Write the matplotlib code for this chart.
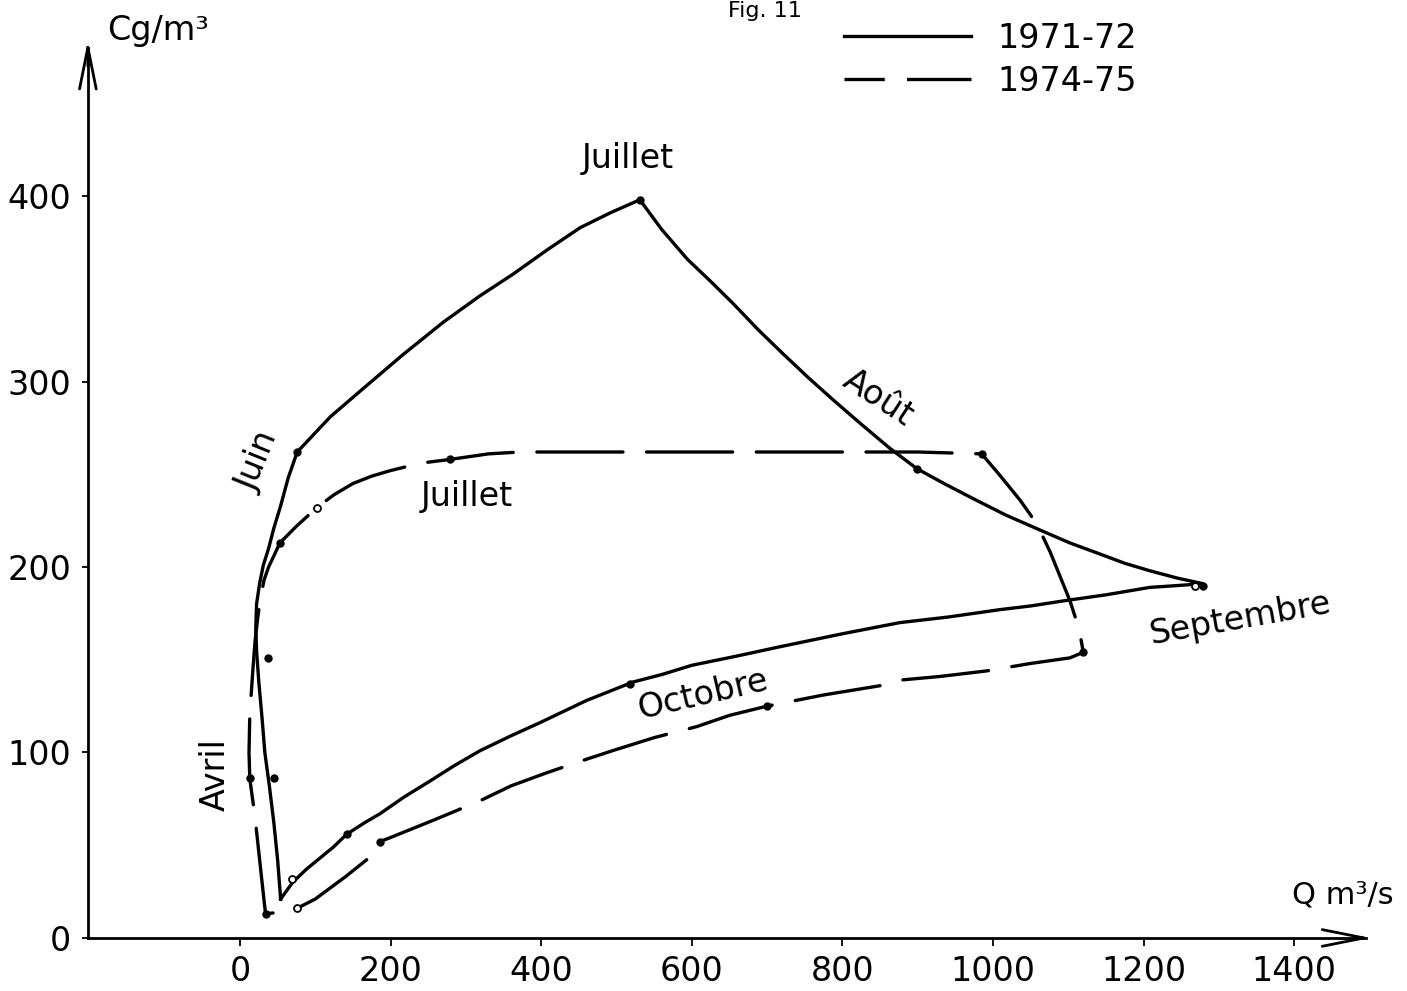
import numpy as np
import matplotlib
matplotlib.use("Agg")
import matplotlib.pyplot as plt
from matplotlib.lines import Line2D

plt.rcParams['font.family'] = ['DejaVu Sans']
plt.rcParams['lines.scale_dashes'] = False

# 1971-72 loop (solid), Q m3/s vs C g/m3
q_7172 = [54, 50, 45, 39, 33, 29, 25, 22, 21, 22, 26, 31, 38, 45, 54, 64, 76,
          120, 163, 215, 270, 318, 363, 408, 452, 492, 531,
          560, 594, 625, 655, 688, 721, 755, 788, 825, 863, 899, 935, 973,
          1017, 1062, 1102, 1142, 1175, 1208, 1245, 1279,
          1245, 1208, 1150, 1098, 1050, 1009, 940, 876, 800, 717, 660, 600,
          560, 522, 460, 398, 360, 319, 285, 250, 218, 186, 165, 142, 124, 106, 88, 70, 54]
c_7172 = [21, 42, 62, 82, 100, 120, 138, 155, 167, 180, 191, 201, 210, 221, 233, 248, 262,
          281, 296, 314, 332, 346, 358, 371, 383, 391, 398,
          382, 366, 354, 342, 328, 315, 302, 290, 277, 264, 253, 245, 237,
          228, 220, 213, 207, 202, 198, 194, 191,
          190, 189, 185, 182, 179, 177, 173, 170, 164, 157, 152, 147,
          142, 138, 128, 116, 109, 101, 93, 84, 76, 67, 62, 56, 49, 43, 37, 30, 21]

# 1974-75 loop (dashed)
q_7475 = [34, 32, 28, 24, 20, 15, 13, 12, 13, 17, 20, 24, 28, 32, 38, 45, 53,
          75, 102, 125, 150, 175, 200, 240, 279, 330, 372, 500, 700, 900, 985,
          1010, 1036, 1050, 1062, 1076, 1089, 1102, 1110, 1115, 1120,
          1102, 1050, 992, 930, 876, 850, 775, 700, 650, 607, 550, 495, 450, 407,
          360, 319, 260, 199, 186, 177, 140, 100, 76, 55, 34]
c_7475 = [13, 20, 35, 50, 65, 80, 86, 100, 120, 144, 160, 174, 185, 193, 200, 206, 213,
          222, 232, 239, 245, 249, 252, 256, 258, 261, 262, 262, 262, 262, 261,
          249, 236, 228, 220, 208, 195, 182, 172, 165, 154,
          151, 148, 144, 141, 139, 136, 131, 125, 120, 114, 108, 101, 95, 89,
          82, 74, 64, 54, 52, 45, 33, 21, 16, 14, 13]

# measured points
dots_7172_q = [76, 531, 899, 1279, 518, 142, 37, 45]
dots_7172_c = [262, 398, 253, 190, 137, 56, 151, 86]
open_7172_q = [69, 1268]
open_7172_c = [32, 190]
dots_7475_q = [34, 186, 700, 1120, 985, 279, 53, 13]
dots_7475_c = [13, 52, 125, 154, 261, 258, 213, 86]
open_7475_q = [76, 102]
open_7475_c = [16, 232]

xticks = [0, 200, 400, 600, 800, 1000, 1200, 1400]
yticks = [0, 100, 200, 300, 400]

fig = plt.figure(figsize=(14.07, 9.91), dpi=100)
ax = fig.add_axes([0, 0, 1, 1])
ax.set_xlim(-318.7, 1549.8)
ax.set_ylim(-28.6, 505.7)

# axes drawn like the hand-made original
ax.spines['right'].set_visible(False)
ax.spines['top'].set_visible(False)
ax.spines['left'].set_position(('data', -202))
ax.spines['bottom'].set_position(('data', 0))
ax.spines['left'].set_bounds(0, 480)
ax.spines['bottom'].set_bounds(-202, 1495)
for s in ('left', 'bottom'):
    ax.spines[s].set_linewidth(2)
ax.set_xticks(xticks)
ax.set_yticks(yticks)
ax.tick_params(axis='x', direction='out', length=6, width=1.3, pad=6, labelsize=24)
ax.tick_params(axis='y', direction='out', length=4, width=1.3, pad=8, labelsize=24)
ax.patch.set_visible(False)

arrow = dict(arrowstyle='->,head_length=1.5,head_width=0.3', lw=2, color='k',
             shrinkA=0, shrinkB=0, mutation_scale=20)
ax.annotate('', xy=(-202, 484), xytext=(-202, 470), arrowprops=arrow)
ax.annotate('', xy=(1502, 0), xytext=(1480, 0), arrowprops=arrow)

ax.text(-176, 484, 'Cg/m³', fontsize=24, ha='left', va='baseline')
ax.text(1532, 23, 'Q m³/s', fontsize=22, ha='right', va='center')

dash = (0, (62, 17))
ax.plot(q_7172, c_7172, color='k', lw=2.4, solid_joinstyle='round')
ax.plot(q_7475, c_7475, color='k', lw=2.4, linestyle=dash, dash_capstyle='round')

ax.plot(dots_7172_q, dots_7172_c, 'o', color='k', ms=5)
ax.plot(dots_7475_q, dots_7475_c, 'o', color='k', ms=5)
ax.plot(open_7172_q + open_7475_q, open_7172_c + open_7475_c, 'o',
        mfc='white', mec='k', mew=1.3, ms=5)

# month labels
lab = dict(fontsize=24, ha='center', va='center')
ax.text(515, 420, 'Juillet', **lab)
ax.text(301, 238, 'Juillet', **lab)
ax.text(24, 257, 'Juin', rotation=68, **lab)
ax.text(-33, 88, 'Avril', rotation=90, **lab)
ax.text(847, 291, 'Août', rotation=-33, **lab)
ax.text(1328, 172, 'Septembre', rotation=10, **lab)
ax.text(615, 131, 'Octobre', rotation=13, **lab)

ax.text(697, 505, 'Fig. 11', fontsize=16, ha='center', va='top')

handles = [Line2D([], [], color='k', lw=2.4),
           Line2D([], [], color='k', lw=2.4, dashes=(29, 16, 48, 16))]
fig.legend(handles, ['1971-72', '1974-75'], loc='upper left',
           bbox_to_anchor=(0.588, 0.995), frameon=False, fontsize=24,
           handlelength=3.8, handletextpad=0.8, labelspacing=0.3, borderpad=0)

fig.savefig('out.png', dpi=100)
